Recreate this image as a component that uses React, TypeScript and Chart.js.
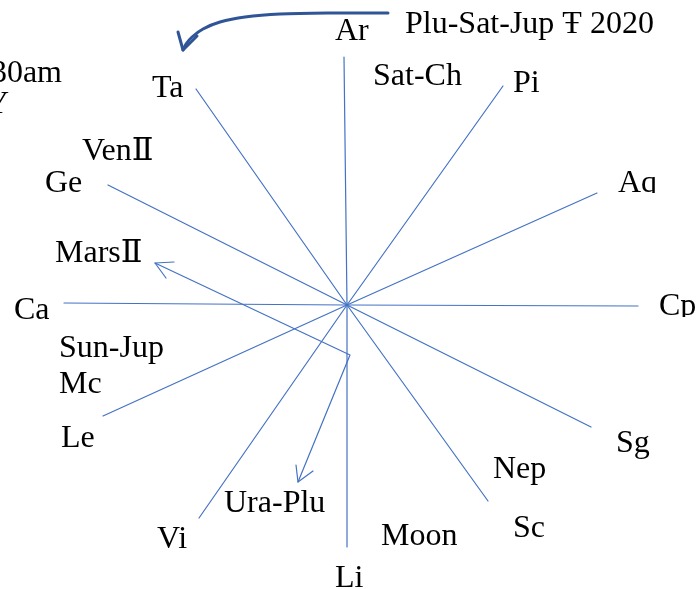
import React, { useEffect, useRef } from "react";
import { Chart, registerables } from "chart.js";

Chart.register(...registerables);

// Wheel centre
const centerX = 347;
const centerY = 305;

// Twelve spokes: sign and outer end of each spoke
const signs = ["Ar", "Pi", "Aq", "Cp", "Sg", "Sc", "Li", "Vi", "Le", "Ca", "Ge", "Ta"];
const spokeX = [344, 503, 597, 638, 591, 488, 347, 199, 103, 64, 108, 196];
const spokeY = [57, 86, 193, 306, 427, 501, 547, 518, 416, 303, 185, 89];

// Text labels (left x, baseline y)
const labelText = [
  "Ar", "Plu-Sat-Jup Ŧ 2020", "Ta", "Sat-Ch", "Pi", "VenⅡ", "Ge", "Aq", "MarsⅡ",
  "Ca", "Cp", "Sun-Jup", "Mc", "Le", "Nep", "Sg", "Ura-Plu", "Vi", "Moon", "Sc", "Li",
];
const labelX = [335, 405, 152, 373, 513, 82, 45, 618, 55, 14, 659, 59, 59, 61, 493, 616, 224, 157, 381, 513, 335];
const labelY = [40, 33, 97, 85, 92, 160, 192, 192, 262, 319, 315, 357, 393, 447, 478, 452, 512, 548, 545, 537, 587];

// Right-aligned partial texts at the left edge
const edgeText = ["6:30am", "NY"];
const edgeRightX = [62, 9];
const edgeY = [82, 113];

// Transit path Mars -> bend -> Ura-Plu
const pathX = [155, 350, 298];
const pathY = [263, 355, 482];
const marsHeadX = [174, 155, 166];
const marsHeadY = [262, 263, 278];
const uraHeadX = [296, 298, 313];
const uraHeadY = [465, 482, 471];

// Top curved arrow
const topCurveX = [388, 330, 280, 245, 220, 203, 192, 186, 183];
const topCurveY = [13, 13, 14, 17, 22, 29, 37, 44, 50];
const topHeadX = [178, 183, 197];
const topHeadY = [32, 50, 36];

const toPts = (xs: number[], ys: number[]) => xs.map((x, i) => ({ x, y: ys[i] }));

export default function App() {
  const ref = useRef<HTMLCanvasElement | null>(null);

  useEffect(() => {
    if (!ref.current) return;
    const thin = "#4472C4";
    const dark = "#2F5597";
    const lineDs = (pts: { x: number; y: number }[], color: string, width: number, tension = 0) => ({
      data: pts,
      showLine: true,
      borderColor: color,
      borderWidth: width,
      pointRadius: 0,
      tension,
      fill: false,
      borderCapStyle: "round",
      borderJoinStyle: "round",
    });
    const datasets: any[] = [];
    signs.forEach((_, i) => {
      datasets.push(lineDs([{ x: centerX, y: centerY }, { x: spokeX[i], y: spokeY[i] }], thin, 1.2));
    });
    datasets.push(lineDs(toPts(pathX, pathY), thin, 1.2));
    datasets.push(lineDs(toPts(marsHeadX, marsHeadY), thin, 1.2));
    datasets.push(lineDs(toPts(uraHeadX, uraHeadY), thin, 1.2));
    datasets.push(lineDs(toPts(topCurveX, topCurveY), dark, 3, 0.3));
    datasets.push(lineDs(toPts(topHeadX, topHeadY), dark, 3));

    const textPlugin = {
      id: "texts",
      afterDatasetsDraw(chart: any) {
        const { ctx, scales } = chart;
        const sx = scales.x;
        const sy = scales.y;
        ctx.save();
        ctx.fillStyle = "#000";
        ctx.font = '32px "Liberation Serif", "DejaVu Serif", serif';
        ctx.textBaseline = "alphabetic";
        ctx.textAlign = "left";
        labelText.forEach((t, i) => {
          ctx.save();
          if (t === "Aq" || t === "Cp") {
            ctx.beginPath();
            ctx.rect(0, 0, chart.width, sy.getPixelForValue(labelY[i] + (t === "Aq" ? 1 : 2)));
            ctx.clip();
          }
          ctx.fillText(t, sx.getPixelForValue(labelX[i]), sy.getPixelForValue(labelY[i]));
          ctx.restore();
        });
        ctx.textAlign = "right";
        edgeText.forEach((t, i) => {
          ctx.fillText(t, sx.getPixelForValue(edgeRightX[i]), sy.getPixelForValue(edgeY[i]));
        });
        ctx.restore();
      },
    };

    const chart = new Chart(ref.current, {
      type: "scatter",
      data: { datasets },
      options: {
        animation: false,
        responsive: true,
        maintainAspectRatio: false,
        layout: { padding: 0 },
        plugins: { legend: { display: false }, tooltip: { enabled: false } },
        scales: {
          x: { type: "linear", min: 0, max: 697, display: false },
          y: { type: "linear", min: 0, max: 589, reverse: true, display: false },
        },
      },
      plugins: [textPlugin],
    });
    return () => chart.destroy();
  }, []);

  return (
    <div style={{ position: "fixed", left: 0, top: 0, width: 697, height: 589, background: "#fff" }}>
      <canvas ref={ref} />
    </div>
  );
}
